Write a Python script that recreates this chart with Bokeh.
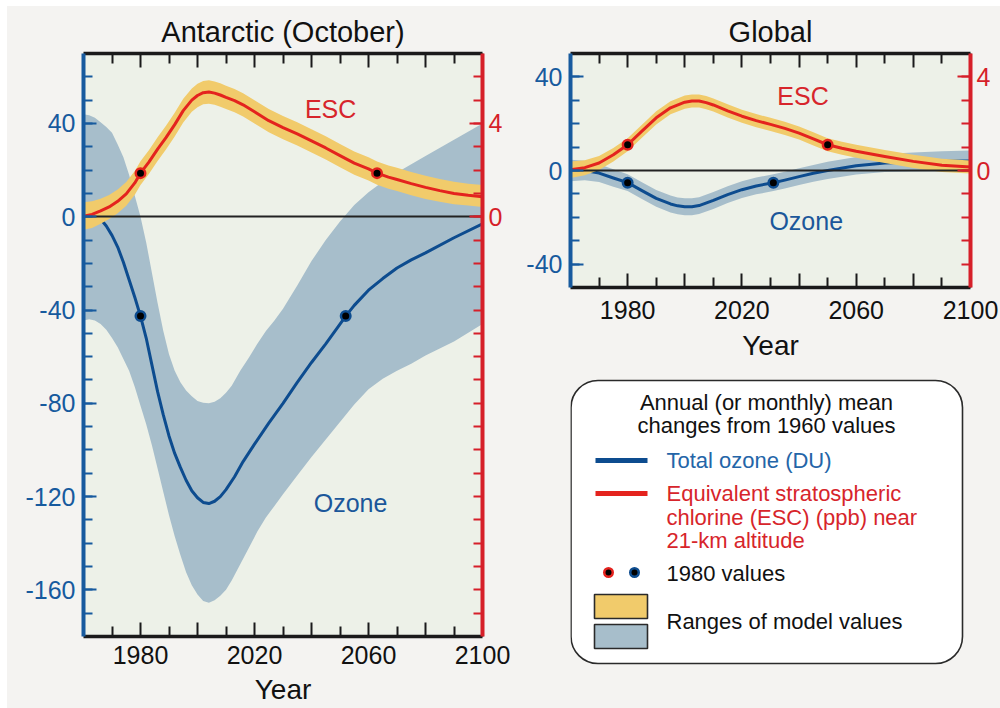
from bokeh.plotting import figure
from bokeh.models import Range1d, LinearAxis, FixedTicker, Label
from bokeh.layouts import row, column
from bokeh.embed import file_html
from bokeh.resources import INLINE
from bokeh.core.properties import value

FONT = "Liberation Sans"
PAGE_BG = "#f4f3f1"
PLOT_BG = "#edf1e8"
OZ_LINE = "#0d4c8f"
OZ_BAND = "#a7becb"
ESC_LINE = "#e4231e"
ESC_BAND = "#f1cb6b"
AX_BLUE = "#175a9e"
AX_RED = "#d61f29"

# ---------------- Antarctic (October) ----------------
ant_esc_years = [1960, 1963, 1966, 1969, 1972, 1975, 1978, 1980, 1983, 1986, 1989, 1992,
                 1995, 1998, 2000, 2002, 2004, 2006, 2008, 2010, 2013, 2016, 2020, 2025,
                 2030, 2035, 2040, 2045, 2050, 2055, 2060, 2063, 2067, 2070, 2075, 2080,
                 2085, 2090, 2095, 2100]
ant_esc = [0.02, 0.1, 0.25, 0.42, 0.66, 0.98, 1.45, 1.87, 2.35, 2.9, 3.4, 3.95,
           4.55, 5.0, 5.2, 5.32, 5.35, 5.3, 5.22, 5.12, 4.98, 4.8, 4.5, 4.12,
           3.82, 3.55, 3.25, 2.95, 2.62, 2.3, 2.05, 1.87, 1.7, 1.6, 1.42, 1.26,
           1.12, 1.0, 0.92, 0.86]
ant_esc_hi = [0.62, 0.66, 0.77, 0.93, 1.17, 1.49, 1.96, 2.38, 2.86, 3.41, 3.91, 4.46,
              5.06, 5.5, 5.7, 5.82, 5.85, 5.8, 5.72, 5.62, 5.48, 5.3, 5.0, 4.62,
              4.32, 4.05, 3.75, 3.45, 3.12, 2.8, 2.55, 2.37, 2.2, 2.1, 1.92, 1.76,
              1.62, 1.5, 1.42, 1.36]
ant_esc_lo = [-0.56, -0.48, -0.3, -0.1, 0.15, 0.47, 0.94, 1.36, 1.84, 2.39, 2.89, 3.44,
              4.04, 4.5, 4.7, 4.82, 4.85, 4.8, 4.72, 4.62, 4.48, 4.3, 4.0, 3.62,
              3.32, 3.05, 2.75, 2.45, 2.12, 1.8, 1.55, 1.37, 1.2, 1.1, 0.92, 0.76,
              0.64, 0.54, 0.48, 0.42]

ant_oz_years = [1960, 1964, 1966, 1968, 1970, 1972, 1974, 1976, 1978, 1980, 1982, 1984,
                1986, 1988, 1990, 1992, 1994, 1996, 1998, 2000, 2002, 2004, 2006, 2008,
                2010, 2013, 2016, 2020, 2025, 2030, 2035, 2040, 2045, 2050, 2052, 2055,
                2060, 2065, 2070, 2075, 2080, 2090, 2100]
ant_oz = [0, 0, -1, -4, -8, -13, -19.5, -27, -34.5, -42.6, -52, -63.5,
          -75, -85, -94, -101.5, -107.5, -113, -117.5, -120.5, -122.5, -123, -122, -120,
          -117, -111.5, -105, -97.5, -88.5, -80, -71, -62.5, -54.5, -46, -42.6, -38,
          -31.5, -26.5, -22, -18.5, -15.5, -9, -3]

ant_band_years = [1960, 1962, 1964, 1966, 1968, 1970, 1972, 1974, 1976, 1978, 1980, 1982,
                  1984, 1986, 1988, 1990, 1992, 1994, 1996, 1998, 2000, 2002, 2004, 2006,
                  2008, 2010, 2012, 2015, 2018, 2021, 2024, 2027, 2030, 2035, 2040, 2045,
                  2050, 2055, 2060, 2065, 2070, 2075, 2080, 2090, 2100]
ant_oz_hi = [44, 43.5, 42.5, 40.5, 38.5, 36, 31, 25.5, 18, 9, 0, -11,
             -24, -37, -49, -59, -66, -71, -74.5, -77, -79, -79.8, -80, -79.3,
             -77.8, -75.5, -72.5, -66, -60.5, -54.5, -49, -44.5, -39.5, -29.5, -19, -10,
             -2, 5, 10.5, 15, 19, 22.5, 26, 33, 40]
ant_oz_lo = [-44.5, -44, -44.5, -46, -48.5, -52, -56, -61, -66, -73, -81, -89,
             -98, -108, -118, -128, -137, -145, -152.5, -158, -162, -164.8, -165.5, -164.5,
             -162.5, -160, -156, -149, -142, -135, -129, -124, -119, -111, -103, -95.5,
             -88, -80.5, -74, -69.5, -66, -63, -59.5, -53.5, -46]

ant_esc_dot_years = [1980, 2063]
ant_oz_dot_years = [1980, 2052]
ant_esc_1980 = 1.87
ant_oz_1980 = -42.6

# ---------------- Global ----------------
glb_esc_years = [1960, 1965, 1970, 1975, 1980, 1985, 1990, 1995, 2000, 2002.5, 2005, 2007.5,
                 2010, 2015, 2020, 2025, 2030, 2035, 2040, 2045, 2050, 2055, 2060, 2070,
                 2080, 2090, 2100]
glb_esc = [0.03, 0.12, 0.32, 0.67, 1.1, 1.68, 2.25, 2.68, 2.92, 2.97, 2.97, 2.9,
           2.8, 2.55, 2.32, 2.13, 1.97, 1.8, 1.6, 1.35, 1.1, 0.95, 0.82, 0.6,
           0.39, 0.22, 0.15]
glb_esc_hi = [0.38, 0.44, 0.62, 0.96, 1.38, 1.96, 2.53, 2.96, 3.2, 3.25, 3.25, 3.18,
              3.08, 2.83, 2.6, 2.41, 2.25, 2.08, 1.88, 1.63, 1.38, 1.23, 1.1, 0.88,
              0.67, 0.5, 0.43]
glb_esc_lo = [-0.32, -0.2, 0.02, 0.38, 0.82, 1.4, 1.97, 2.4, 2.64, 2.69, 2.69, 2.62,
              2.52, 2.27, 2.04, 1.85, 1.69, 1.52, 1.32, 1.07, 0.82, 0.67, 0.54, 0.32,
              0.11, -0.06, -0.13]

glb_oz_years = [1960, 1965, 1970, 1975, 1980, 1985, 1990, 1995, 1997.5, 2000, 2002.5, 2005,
                2010, 2015, 2020, 2025, 2031, 2035, 2040, 2045, 2050, 2060, 2070, 2080,
                2090, 2100]
glb_oz = [0, 0, -1.1, -3.2, -5.2, -8.6, -11.9, -14.3, -15.1, -15.5, -15.5, -15,
          -12.8, -10.3, -8.2, -6.6, -5.2, -4.1, -2.6, -1.2, 0, 2, 3.2, 3.6,
          3.9, 4.1]
glb_oz_hi = [4.6, 4.2, 2.7, 0.5, -1.6, -5.0, -8.3, -10.7, -11.5, -11.9, -11.9, -11.4,
             -9.2, -6.7, -4.6, -3.0, -1.6, -0.5, 1.0, 2.4, 3.7, 5.8, 7.1, 7.7,
             8.2, 8.6]
glb_oz_lo = [-4.6, -4.2, -4.9, -6.9, -8.8, -12.2, -15.5, -17.9, -18.7, -19.1, -19.1, -18.6,
             -16.4, -13.9, -11.8, -10.2, -8.8, -7.7, -6.2, -4.8, -3.6, -1.7, -0.6, -0.4,
             -0.3, -0.4]

glb_esc_dot_years = [1980, 2050]
glb_oz_dot_years = [1980, 2031]
glb_esc_1980 = 1.1
glb_oz_1980 = -5.2

# ---------------- axes ----------------
year_major = [1980, 2000, 2020, 2040, 2060, 2080, 2100]
year_minor = [1970, 1990, 2010, 2030, 2050, 2070, 2090]
year_labels = {1980: "1980", 2000: "", 2020: "2020", 2040: "", 2060: "2060", 2080: "", 2100: "2100"}

ant_du_major = [-160, -120, -80, -40, 0, 40]
ant_du_minor = list(range(-170, 70, 10))
ant_ppb_major = [0, 4]
ant_ppb_minor = list(range(-17, 7))

glb_du_major = [-40, 0, 40]
glb_du_minor = list(range(-40, 50, 10))
glb_ppb_major = [0, 4]
glb_ppb_minor = list(range(-4, 5))


def hyphen_labels(ticks):
    # plain hyphen-minus for negative tick labels
    return {t: str(t) for t in ticks}


def style_axis(ax, color, label_color, font_size="25px"):
    ax.axis_line_color = color
    ax.axis_line_width = 4
    ax.major_tick_line_color = color
    ax.minor_tick_line_color = color
    ax.major_tick_line_width = 2
    ax.minor_tick_line_width = 2
    ax.major_tick_in = 13
    ax.major_tick_out = 0
    ax.minor_tick_in = 9
    ax.minor_tick_out = 0
    ax.major_label_text_color = label_color
    ax.major_label_text_font = FONT
    ax.major_label_text_font_size = font_size


def panel(title, width, height, borders, du_range, ppb_range,
          du_major, du_minor, ppb_major, ppb_minor,
          esc_years, esc, esc_hi, esc_lo,
          oz_years, oz, band_years, oz_hi, oz_lo,
          esc_dot_years, esc_dot_value, oz_dot_years, oz_dot_value,
          esc_label_pos, oz_label_pos, x_label_standoff, x_title_standoff):
    top, right, bottom, left = borders
    p = figure(width=width, height=height, x_range=Range1d(1960, 2100),
               y_range=Range1d(*du_range), x_axis_type=None, y_axis_type=None,
               output_backend="svg", toolbar_location=None, title=title,
               min_border_top=top, min_border_right=right,
               min_border_bottom=bottom, min_border_left=left)
    p.extra_y_ranges = {"ppb": Range1d(*ppb_range)}
    p.background_fill_color = PLOT_BG
    p.border_fill_color = PAGE_BG
    p.outline_line_color = None
    p.title.align = "center"
    p.title.text_font = FONT
    p.title.text_font_size = "29px"
    p.title.text_font_style = "normal"
    p.title.text_color = "#111111"
    p.title.standoff = 12

    # DU axis (left)
    ax_l = LinearAxis(ticker=FixedTicker(ticks=du_major, minor_ticks=du_minor))
    style_axis(ax_l, AX_BLUE, AX_BLUE)
    ax_l.major_label_standoff = 8
    ax_l.major_label_overrides = hyphen_labels(du_major)
    p.add_layout(ax_l, "left")

    # ppb axis (right)
    ax_r = LinearAxis(y_range_name="ppb",
                      ticker=FixedTicker(ticks=ppb_major, minor_ticks=ppb_minor))
    style_axis(ax_r, AX_RED, AX_RED)
    ax_r.major_label_standoff = 6
    p.add_layout(ax_r, "right")

    # year axes (bottom with labels, top ticks only)
    ax_b = LinearAxis(ticker=FixedTicker(ticks=year_major, minor_ticks=year_minor),
                      axis_label="Year")
    style_axis(ax_b, "#1a1a1a", "#111111")
    ax_b.major_tick_in = 14
    ax_b.minor_tick_in = 10
    ax_b.axis_line_width = 3.5
    ax_b.major_label_overrides = year_labels
    ax_b.major_label_standoff = x_label_standoff
    ax_b.axis_label_text_font = FONT
    ax_b.axis_label_text_font_size = "28px"
    ax_b.axis_label_text_font_style = "normal"
    ax_b.axis_label_text_color = "#111111"
    ax_b.axis_label_standoff = x_title_standoff
    p.add_layout(ax_b, "below")

    ax_t = LinearAxis(ticker=FixedTicker(ticks=year_major, minor_ticks=year_minor))
    style_axis(ax_t, "#1a1a1a", "#111111", font_size="0px")
    ax_t.major_tick_in = 14
    ax_t.minor_tick_in = 10
    ax_t.axis_line_width = 3.5
    ax_t.major_label_standoff = 0
    ax_t.major_label_overrides = {t: "" for t in year_major}
    p.add_layout(ax_t, "above")

    # model ranges and mean curves
    p.varea(x=band_years, y1=oz_lo, y2=oz_hi, fill_color=OZ_BAND)
    p.line(oz_years, oz, line_color=OZ_LINE, line_width=3, line_join="round")
    p.varea(x=esc_years, y1=esc_lo, y2=esc_hi, fill_color=ESC_BAND, y_range_name="ppb")
    p.hspan(y=[0], line_color="#222222", line_width=1.8)
    p.line(esc_years, esc, line_color=ESC_LINE, line_width=3, line_join="round",
           y_range_name="ppb")

    # 1980 reference values
    p.scatter(oz_dot_years, [oz_dot_value] * len(oz_dot_years), size=9.5,
              fill_color="black", line_color=OZ_LINE, line_width=2.5)
    p.scatter(esc_dot_years, [esc_dot_value] * len(esc_dot_years), size=9.5,
              fill_color="black", line_color=ESC_LINE, line_width=2.5, y_range_name="ppb")

    p.add_layout(Label(x=esc_label_pos[0], y=esc_label_pos[1], text="ESC",
                       text_color="#d7252b", text_font=FONT, text_font_size="25px",
                       text_align="center", text_baseline="middle"))
    p.add_layout(Label(x=oz_label_pos[0], y=oz_label_pos[1], text="Ozone",
                       text_color="#1b579a", text_font=FONT, text_font_size="25px",
                       text_align="center", text_baseline="middle"))
    return p


ant = panel("Antarctic (October)", 503, 702, (47, 28, 72, 76), (-180, 70), (-18, 7),
            ant_du_major, ant_du_minor, ant_ppb_major, ant_ppb_minor,
            ant_esc_years, ant_esc, ant_esc_hi, ant_esc_lo,
            ant_oz_years, ant_oz, ant_band_years, ant_oz_hi, ant_oz_lo,
            ant_esc_dot_years, ant_esc_1980, ant_oz_dot_years, ant_oz_1980,
            (2046.7, 46.3), (2053.7, -122.7), 9, 7)

glb = panel("Global", 490, 364, (47, 30, 83, 60), (-50, 50), (-5, 5),
            glb_du_major, glb_du_minor, glb_ppb_major, glb_ppb_minor,
            glb_esc_years, glb_esc, glb_esc_hi, glb_esc_lo,
            glb_oz_years, glb_oz, glb_oz_years, glb_oz_hi, glb_oz_lo,
            glb_esc_dot_years, glb_esc_1980, glb_oz_dot_years, glb_oz_1980,
            (2041.4, 31.7), (2042.5, -21.6), 13, 8)

# ---------------- key ----------------
# the key's frame shares its horizontal extent with the Global panel above it
key = figure(width=490, height=338, x_range=Range1d(60, 460), y_range=Range1d(338, 0),
             x_axis_type=None, y_axis_type=None, output_backend="svg",
             toolbar_location=None, min_border_left=60, min_border_right=30,
             min_border_top=0, min_border_bottom=0)
key.background_fill_color = PAGE_BG
key.border_fill_color = PAGE_BG
key.outline_line_color = None
try:
    key.quad(left=60.5, right=452, top=10, bottom=293, fill_color="white",
             line_color="#2a2a2a", line_width=1.6, border_radius=27)
except AttributeError:
    key.quad(left=60.5, right=452, top=10, bottom=293, fill_color="white",
             line_color="#2a2a2a", line_width=1.6)

key_font = value(FONT)
key.text(x=[256, 256], y=[32, 55], text=["Annual (or monthly) mean", "changes from 1960 values"],
         text_font=key_font, text_font_size="22px", text_color="#111111",
         text_align="center", text_baseline="middle")
key.segment(x0=[85], y0=[90], x1=[137], y1=[90], line_color=OZ_LINE, line_width=5)
key.segment(x0=[85], y0=[123], x1=[137], y1=[123], line_color=ESC_LINE, line_width=5)
key.text(x=[156], y=[90], text=["Total ozone (DU)"], text_font=key_font,
         text_font_size="22px", text_color="#2465a8", text_baseline="middle")
key.text(x=[156, 156, 156], y=[123, 147, 170],
         text=["Equivalent stratospheric", "chlorine (ESC) (ppb) near", "21-km altitude"],
         text_font=key_font, text_font_size="22px", text_color="#d7252b",
         text_baseline="middle")
key.scatter([98], [202], size=8.5, fill_color="black", line_color=ESC_LINE, line_width=2.5)
key.scatter([124], [202], size=8.5, fill_color="black", line_color=OZ_LINE, line_width=2.5)
key.text(x=[156], y=[203], text=["1980 values"], text_font=key_font,
         text_font_size="22px", text_color="#111111", text_baseline="middle")
key.quad(left=[84], right=[137], top=[224], bottom=[248], fill_color=ESC_BAND,
         line_color="#2a2a2a", line_width=1.6)
key.quad(left=[84], right=[137], top=[254], bottom=[278], fill_color=OZ_BAND,
         line_color="#2a2a2a", line_width=1.6)
key.text(x=[156], y=[251], text=["Ranges of model values"], text_font=key_font,
         text_font_size="22px", text_color="#111111", text_baseline="middle")

right_col = column(glb, key, styles={"background-color": PAGE_BG})
layout = row(ant, right_col, margin=(6, 0, 0, 7), styles={"background-color": PAGE_BG})

with open("out.html", "w") as f:
    f.write(file_html(layout, INLINE, title="Ozone and ESC changes"))
